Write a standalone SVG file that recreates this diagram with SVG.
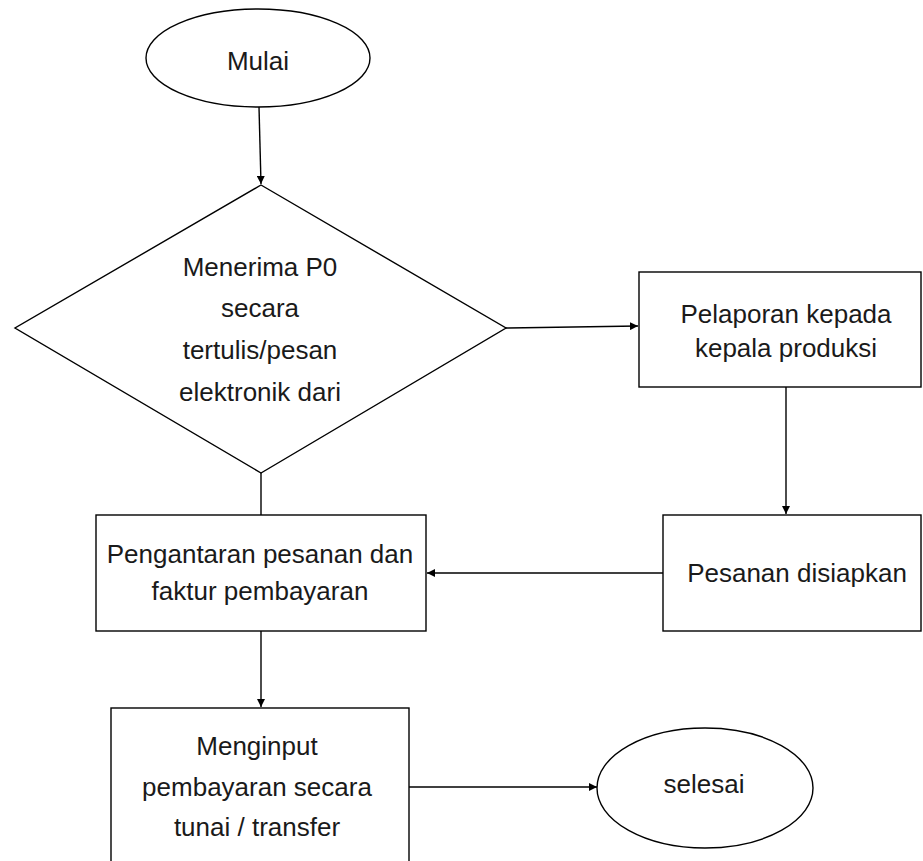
<svg xmlns="http://www.w3.org/2000/svg" width="923" height="861" viewBox="0 0 923 861">
<style>
.s{fill:#fff;stroke:#000;stroke-width:1.4}
.t{font-family:"Liberation Sans",Arial,sans-serif;font-size:26px;fill:#1a1a1a;text-anchor:middle}
.c{fill:none;stroke:#000;stroke-width:1.4}
</style>
<defs>
<marker id="ah" viewBox="0 0 10 10" refX="10" refY="5" markerWidth="8" markerHeight="8" markerUnits="userSpaceOnUse" orient="auto">
<path d="M0,0 L10,5 L0,10 z" fill="#000"/>
</marker>
</defs>
<rect width="923" height="861" fill="#fff"/>
<g id="connectors">
<line class="c" x1="259" y1="107" x2="261" y2="184" marker-end="url(#ah)"/>
<line class="c" x1="506" y1="328" x2="638" y2="326" marker-end="url(#ah)"/>
<line class="c" x1="786" y1="387" x2="786" y2="514" marker-end="url(#ah)"/>
<line class="c" x1="663" y1="573" x2="427" y2="573" marker-end="url(#ah)"/>
<line class="c" x1="261" y1="473" x2="261" y2="515"/>
<line class="c" x1="261" y1="631" x2="261" y2="707" marker-end="url(#ah)"/>
<line class="c" x1="409" y1="787" x2="597" y2="787" marker-end="url(#ah)"/>
</g>
<g id="mulai">
<ellipse class="s" cx="258" cy="58" rx="112" ry="49"/>
<text class="t" x="258" y="70">Mulai</text>
</g>
<g id="menerima">
<polygon class="s" points="261,185 506,328 261,473 15,328"/>
<text class="t" x="260" y="276">Menerima P0</text>
<text class="t" x="260" y="317">secara</text>
<text class="t" x="260" y="359">tertulis/pesan</text>
<text class="t" x="260" y="401">elektronik dari</text>
</g>
<g id="pelaporan">
<rect class="s" x="639" y="272" width="282" height="115"/>
<text class="t" x="786" y="323">Pelaporan kepada</text>
<text class="t" x="786" y="357">kepala produksi</text>
</g>
<g id="pesanan">
<rect class="s" x="663" y="515" width="258" height="116"/>
<text class="t" x="797" y="582">Pesanan disiapkan</text>
</g>
<g id="pengantaran">
<rect class="s" x="96" y="515" width="330" height="116"/>
<text class="t" x="260" y="563">Pengantaran pesanan dan</text>
<text class="t" x="260" y="600">faktur pembayaran</text>
</g>
<g id="menginput">
<rect class="s" x="111" y="708" width="298" height="170"/>
<text class="t" x="257" y="755">Menginput</text>
<text class="t" x="257" y="796">pembayaran secara</text>
<text class="t" x="257" y="836">tunai / transfer</text>
</g>
<g id="selesai">
<ellipse class="s" cx="705" cy="788" rx="108" ry="60"/>
<text class="t" x="704" y="793">selesai</text>
</g>
</svg>
